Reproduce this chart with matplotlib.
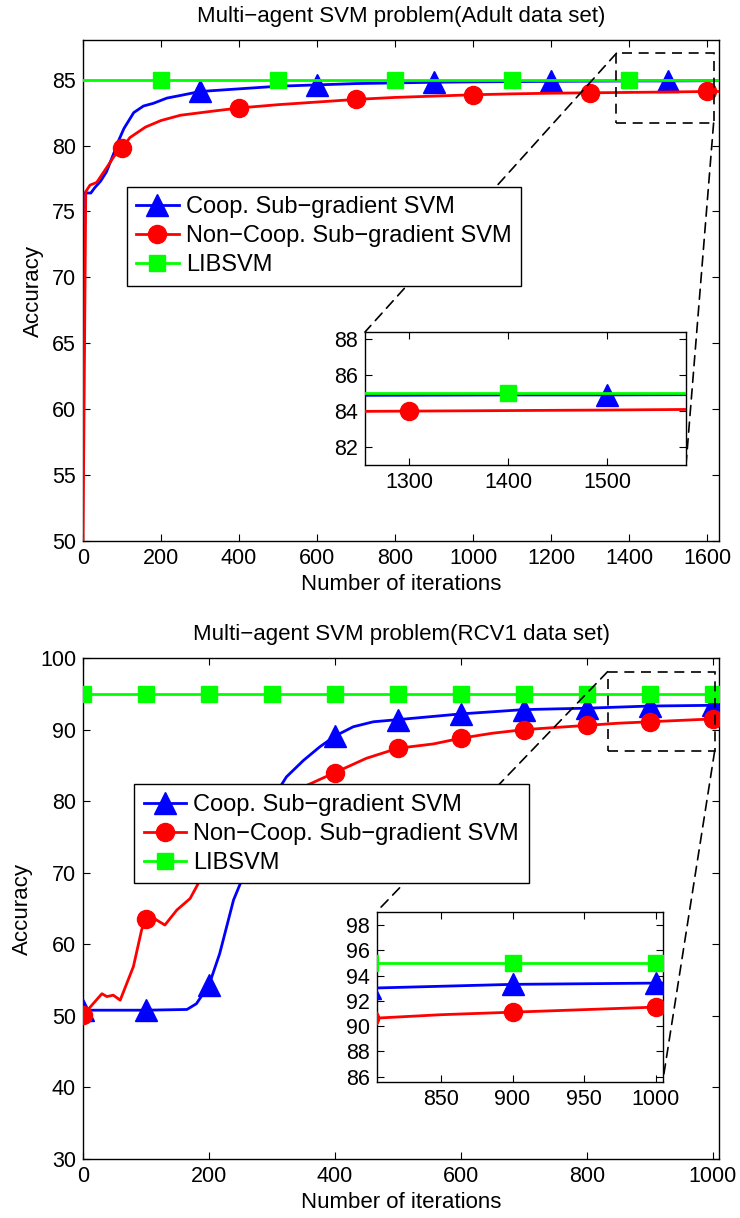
#!/usr/bin/env python3
"""
Multi-agent SVM accuracy vs iterations (Adult / RCV1), with zoom insets
"""

import numpy as np
import matplotlib
matplotlib.use("Agg")
import matplotlib.pyplot as plt
from matplotlib.patches import Rectangle, ConnectionPatch

# ── colours ───────────────────────────────────────────────
C_COOP = "#0000FF"
C_NON  = "#FF0000"
C_LIB  = "#00FF00"

LABELS = ["Coop. Sub\u2212gradient SVM",
          "Non\u2212Coop. Sub\u2212gradient SVM",
          "LIBSVM"]

# ---------------------------------------------------------------------------
# Data: Adult data set
# ---------------------------------------------------------------------------
adult_it_coop = [0, 1, 20, 30, 45, 60, 80, 90, 105, 130, 155, 180, 215, 250,
                 300, 400, 500, 600, 700, 800, 900, 1000, 1200, 1400, 1500, 1630]
adult_coop    = [63.0, 76.4, 76.4, 76.8, 77.3, 78.0, 79.5, 80.3, 81.3, 82.5,
                 83.0, 83.2, 83.6, 83.8, 84.1, 84.3, 84.5, 84.6, 84.7, 84.75,
                 84.8, 84.83, 84.87, 84.9, 84.9, 84.92]
adult_mk_coop = [300, 600, 900, 1200, 1500]

adult_it_non = [0, 7, 18, 35, 60, 80, 100, 120, 160, 200, 250, 330, 400, 500,
                600, 700, 800, 900, 1000, 1100, 1200, 1300, 1400, 1500, 1600, 1630]
adult_non    = [50.0, 76.5, 77.0, 77.2, 78.3, 79.2, 79.8, 80.6, 81.4, 81.9,
                82.3, 82.6, 82.85, 83.1, 83.3, 83.5, 83.65, 83.75, 83.85,
                83.92, 83.97, 84.0, 84.03, 84.06, 84.1, 84.1]
adult_mk_non = [100, 400, 700, 1000, 1300, 1600]

adult_it_lib = [0, 200, 500, 800, 1100, 1400, 1630]
adult_lib    = [85.0, 85.0, 85.0, 85.0, 85.0, 85.0, 85.0]
adult_mk_lib = [200, 500, 800, 1100, 1400]

# ---------------------------------------------------------------------------
# Data: RCV1 data set
# ---------------------------------------------------------------------------
rcv_it_coop = [0, 100, 165, 180, 200, 217, 239, 254, 270, 290, 300, 313, 323,
               350, 376, 400, 429, 461, 500, 550, 600, 650, 700, 750, 800,
               850, 900, 950, 1000, 1010]
rcv_coop    = [50.8, 50.8, 50.9, 51.7, 54.3, 58.7, 66.2, 69.4, 73.5, 78.0,
               79.8, 82.0, 83.4, 85.7, 87.6, 89.1, 90.4, 91.1, 91.4, 91.8,
               92.2, 92.5, 92.8, 92.9, 93.0, 93.15, 93.3, 93.35, 93.4, 93.4]

rcv_it_non = [0, 16, 30, 38, 48, 59, 80, 93, 100, 115, 130, 149, 170, 186,
              200, 220, 260, 300, 355, 400, 450, 500, 556, 600, 650, 700,
              750, 800, 850, 900, 950, 1000, 1010]
rcv_non    = [50.1, 51.7, 53.1, 52.7, 52.9, 52.2, 56.9, 62.0, 63.6, 63.5,
              62.7, 64.8, 66.4, 69.0, 70.7, 73.0, 77.0, 80.0, 82.2, 84.0,
              86.0, 87.4, 88.0, 88.8, 89.5, 90.0, 90.3, 90.6, 90.9, 91.1,
              91.3, 91.5, 91.5]

rcv_it_lib = [0, 100, 200, 300, 400, 500, 600, 700, 800, 900, 1000, 1010]
rcv_lib    = [95.0] * 12

rcv_mk = [0, 100, 200, 300, 400, 500, 600, 700, 800, 900, 1000]

FS_TICK = 15.5
FS_LAB  = 16
FS_LEG  = 17
plt.rcParams.update({
    "font.family": ["Liberation Sans", "DejaVu Sans"],
    "font.size": FS_TICK,
    "xtick.direction": "in",
    "ytick.direction": "in",
    "xtick.top": True,
    "ytick.right": True,
    "xtick.major.size": 5,
    "ytick.major.size": 5,
    "xtick.major.pad": 5,
    "ytick.major.pad": 5,
    "axes.linewidth": 1.0,
})


def marks(iters, wanted):
    iters = list(iters)
    return [iters.index(w) for w in wanted]


def draw_series(ax, series):
    handles = []
    for x, y, mk, marker, ms, color in series:
        h, = ax.plot(x, y, color=color, lw=2.0, marker=marker, ms=ms,
                     markevery=marks(x, mk), mfc=color, mec=color, zorder=3)
        handles.append(h)
    return handles


def zoom_box(ax, ins, x0, x1, y0, y1):
    ax.add_patch(Rectangle((x0, y0), x1 - x0, y1 - y0, fill=False,
                           ls=(0, (6, 4)), lw=1.2, ec="black", zorder=4))
    for (xa, ya), (xb, yb) in [((x0, y1), (0, 1)), ((x1, y0), (1, 0))]:
        con = ConnectionPatch(xyA=(xa, ya), coordsA=ax.transData,
                              xyB=(xb, yb), coordsB=ins.transAxes,
                              ls=(0, (6, 4)), lw=1.2, color="black", zorder=4)
        ax.add_artist(con)


def add_legend(ax, handles, anchor):
    leg = ax.legend(handles, LABELS, loc="upper left", bbox_to_anchor=anchor,
                    fontsize=FS_LEG, fancybox=False, framealpha=1,
                    edgecolor="black", handlelength=1.8, labelspacing=0.3,
                    borderpad=0.4, handletextpad=0.3, borderaxespad=0)
    leg.get_frame().set_linewidth(1.0)
    leg.set_zorder(6)


fig = plt.figure(figsize=(7.40, 12.18), dpi=100)

# ── Adult ─────────────────────────────────────────────────
ax1 = fig.add_axes([0.1122, 0.5558, 0.8595, 0.4113])
s1 = [(adult_it_coop, adult_coop, adult_mk_coop, "^", 15.5, C_COOP),
      (adult_it_non, adult_non, adult_mk_non, "o", 13, C_NON),
      (adult_it_lib, adult_lib, adult_mk_lib, "s", 11, C_LIB)]
h1 = draw_series(ax1, s1)
ax1.set_xlim(0, 1630)
ax1.set_ylim(50, 88)
ax1.set_xticks(range(0, 1601, 200))
ax1.set_yticks(range(50, 86, 5))
ax1.set_xlabel("Number of iterations", fontsize=FS_LAB)
ax1.xaxis.set_label_coords(0.5, -0.066)
ax1.set_ylabel("Accuracy", fontsize=FS_LAB)
ax1.yaxis.set_label_coords(-0.061, 0.5)
ax1.set_title("Multi\u2212agent SVM problem(Adult data set)", fontsize=FS_LAB, pad=13)
add_legend(ax1, h1, (0.0687, 0.707))

ins1 = fig.add_axes([0.4932, 0.6182, 0.4338, 0.1092])
draw_series(ins1, s1)
ins1.set_xlim(1255, 1580)
ins1.set_ylim(81.0, 88.4)
ins1.set_xticks([1300, 1400, 1500])
ins1.set_yticks([82, 84, 86, 88])
zoom_box(ax1, ins1, 1367, 1616, 81.7, 87.0)

# ── RCV1 ──────────────────────────────────────────────────
ax2 = fig.add_axes([0.1122, 0.0484, 0.8595, 0.4113])
s2 = [(rcv_it_coop, rcv_coop, rcv_mk, "^", 15.5, C_COOP),
      (rcv_it_non, rcv_non, rcv_mk, "o", 13, C_NON),
      (rcv_it_lib, rcv_lib, rcv_mk, "s", 11, C_LIB)]
h2 = draw_series(ax2, s2)
ax2.set_xlim(0, 1010)
ax2.set_ylim(30, 100)
ax2.set_xticks(range(0, 1001, 200))
ax2.set_yticks(range(30, 101, 10))
ax2.set_xlabel("Number of iterations", fontsize=FS_LAB)
ax2.xaxis.set_label_coords(0.5, -0.066)
ax2.set_ylabel("Accuracy", fontsize=FS_LAB)
ax2.yaxis.set_label_coords(-0.079, 0.5)
ax2.set_title("Multi\u2212agent SVM problem(RCV1 data set)", fontsize=FS_LAB, pad=13)
add_legend(ax2, h2, (0.0807, 0.748))

ins2 = fig.add_axes([0.509, 0.1119, 0.3865, 0.1396])
draw_series(ins2, s2)
ins2.set_xlim(805, 1005)
ins2.set_ylim(85.6, 99.05)
ins2.set_xticks([850, 900, 950, 1000])
ins2.set_yticks(range(86, 99, 2))
zoom_box(ax2, ins2, 833, 1003, 87.0, 98.1)

fig.savefig("out.png", dpi=100)
